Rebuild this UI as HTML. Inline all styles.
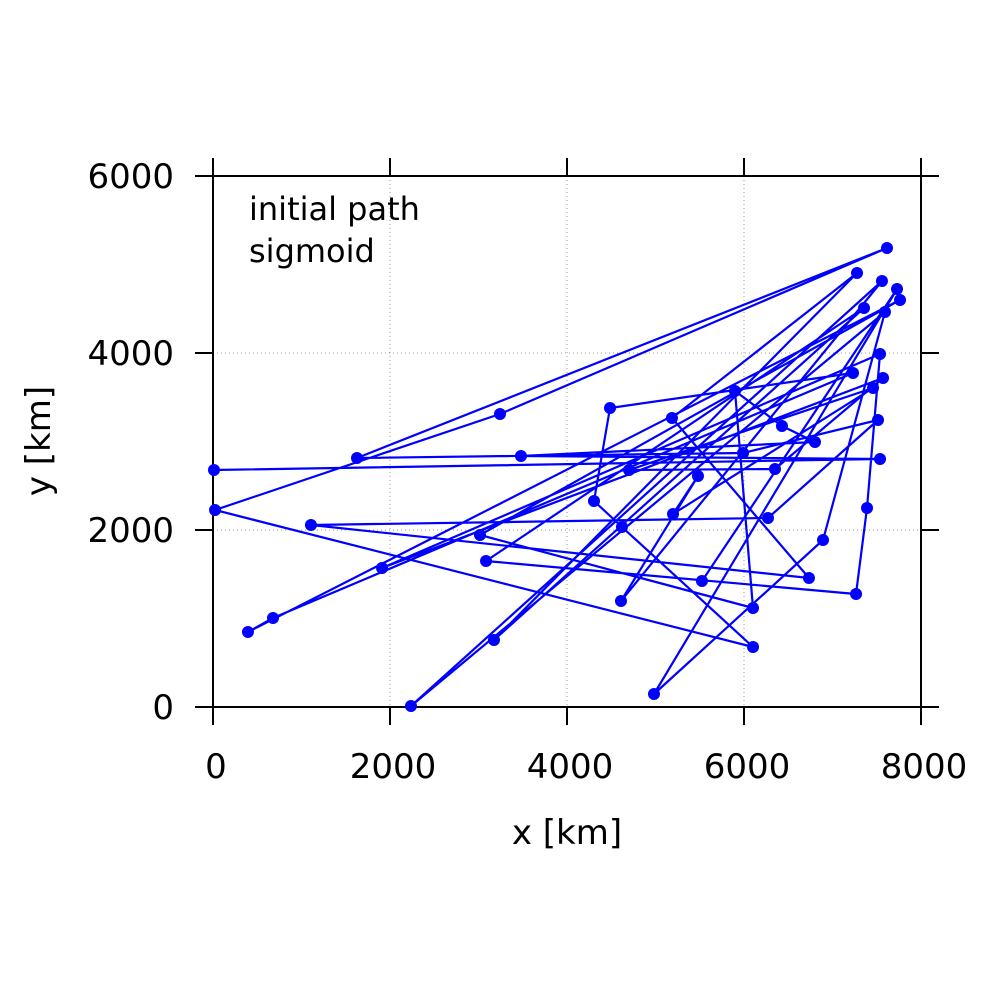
<!DOCTYPE html>
<html><head><meta charset="utf-8"><style>
html,body{margin:0;padding:0;background:#fff;}
svg text{font-family:"DejaVu Sans","Liberation Sans",sans-serif;fill:#000;}
</style></head><body>
<svg width="1000" height="1000" viewBox="0 0 1000 1000" xmlns="http://www.w3.org/2000/svg">
<g id="grid"></g>
<g id="axes"></g>
<g id="series"></g>
<text x="249" y="220" font-size="32">initial path</text>
<text x="249" y="262" font-size="32">sigmoid</text>
<text x="567" y="844" font-size="34" text-anchor="middle">x [km]</text>
<text transform="translate(50,441) rotate(-90)" font-size="34" text-anchor="middle">y [km]</text>
</svg>
<script>
const xTicks = [0, 2000, 4000, 6000, 8000];
const yTicks = [0, 2000, 4000, 6000];
const pathX = [11,7537,3480,6802,6429,5898,6102,3017,7763,395,678,7232,4486,4305,4621,6102,23,3243,7616,1627,5989,7514,6271,1107,6734,5186,7277,3175,7356,3085,7266,7390,7537,1910,7571,6350,4701,7458,5198,5480,4610,7559,2237,7593,6893,4983,7729,5525];
const pathY = [2678,2802,2836,2994,3175,3571,1119,1944,4599,847,1006,3774,3379,2328,2034,678,2226,3311,5186,2814,2870,3243,2136,2056,1458,3266,4904,757,4508,1650,1277,2249,3989,1571,3718,2689,2678,3605,2181,2610,1198,4814,11,4463,1887,147,4723,1424];
const NS='http://www.w3.org/2000/svg';
const L=213,R=921,T=176,B=707;
const sx=v=>L+(v/8000)*(R-L);
const sy=v=>B-(v/6000)*(B-T);
function mk(tag,attrs,parent){const e=document.createElementNS(NS,tag);for(const k in attrs)e.setAttribute(k,attrs[k]);parent.appendChild(e);return e;}
const grid=document.getElementById('grid'),axes=document.getElementById('axes'),series=document.getElementById('series');
xTicks.forEach(t=>{
  const x=sx(t);
  if(t>0&&t<8000){const g=mk('line',{x1:x,x2:x,y1:T,y2:B,stroke:'#999','stroke-width':1,'stroke-dasharray':'1,3'},grid);
  
  }
  const a=mk('line',{x1:x,x2:x,y1:B,y2:B+18,stroke:'#000','stroke-width':2},axes);
  
  
  const b=mk('line',{x1:x,x2:x,y1:T-18,y2:T,stroke:'#000','stroke-width':2},axes);
  
  
  const tx=mk('text',{x:x+3,y:778,'font-size':34,'text-anchor':'middle'},axes);
  tx.textContent=t;
  
  
});
yTicks.forEach(t=>{
  const y=sy(t);
  if(t>0&&t<6000){const g=mk('line',{x1:L,x2:R,y1:y,y2:y,stroke:'#999','stroke-width':1,'stroke-dasharray':'1,3'},grid);
  
  }
  const a=mk('line',{x1:L-18,x2:L,y1:y,y2:y,stroke:'#000','stroke-width':2},axes);
  
  
  const b=mk('line',{x1:R,x2:R+18,y1:y,y2:y,stroke:'#000','stroke-width':2},axes);
  
  
  const tx=mk('text',{x:174,y:y+12,'font-size':34,'text-anchor':'end'},axes);
  tx.textContent=t;
  
  
});
const fr=mk('rect',{x:L,y:T,width:R-L,height:B-T,fill:'none',stroke:'#000','stroke-width':2},axes);


const pts=pathX.map((v,i)=>sx(v).toFixed(1)+','+sy(pathY[i]).toFixed(1)).join(' ');
const pl=mk('polyline',{points:pts,fill:'none',stroke:'#0000ff','stroke-width':2.2},series);


pathX.forEach((v,i)=>{
  const c=mk('circle',{cx:sx(v),cy:sy(pathY[i]),r:6,fill:'#0000ff'},series);
  
  
});
</script>
</body></html>
